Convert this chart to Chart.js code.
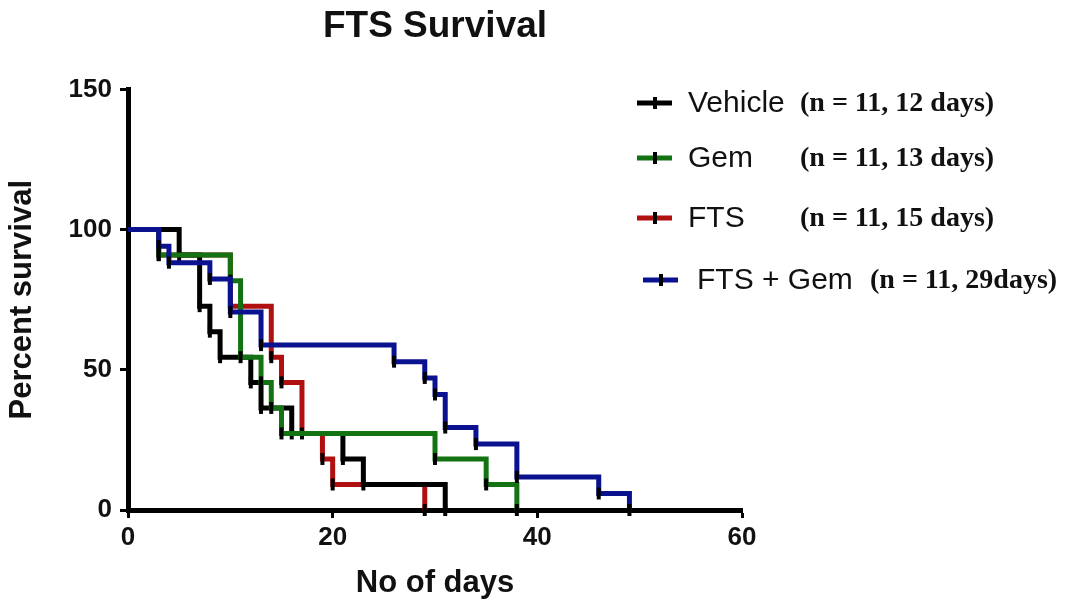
<!DOCTYPE html>
<html>
<head>
<meta charset="utf-8">
<title>FTS Survival</title>
<script src="https://cdn.jsdelivr.net/npm/chart.js@4.4.1/dist/chart.umd.min.js"></script>
<style>
  html, body { margin: 0; padding: 0; background: #fff; }
</style>
</head>
<body>
<canvas id="myChart" width="1082" height="606"></canvas>
<script>
// Kaplan-Meier steps: day of each event and survival after it
const vehicleDays = [0, 5, 7, 8, 9, 12, 13, 16, 21, 23, 31];
const vehicleSurv = [100, 90.9, 72.7, 63.6, 54.5, 45.5, 36.4, 27.3, 18.2, 9.1, 0];

const gemDays = [0, 3, 10, 11, 13, 14, 15, 30, 35, 38];
const gemSurv = [100, 90.9, 81.8, 54.5, 45.5, 36.4, 27.3, 18.2, 9.1, 0];

const ftsDays = [0, 3, 10, 14, 15, 17, 19, 20, 29];
const ftsSurv = [100, 90.9, 72.7, 54.5, 45.5, 27.3, 18.2, 9.1, 0];

const comboDays = [0, 3, 4, 8, 10, 13, 26, 29, 30, 31, 34, 38, 46, 49];
const comboSurv = [100, 94.1, 88.2, 82.4, 70.6, 58.8, 52.9, 47.1, 41.2, 29.4, 23.5, 11.8, 5.9, 0];

const seriesNames = ["Vehicle", "Gem", "FTS", "FTS + Gem"];
const seriesNotes = ["(n = 11, 12 days)", "(n = 11, 13 days)", "(n = 11, 15 days)", "(n = 11, 29days)"];

const xTicks = [0, 20, 40, 60];
const yTicks = [0, 50, 100, 150];

// colours
const seriesColors = ["#000000", "#137313", "#b01010", "#0b128f"];

function toPoints(days, surv) {
    return days.map((d, i) => ({x: d, y: surv[i]}));
}

function makeSet(i, days, surv, drawOrder) {
    return {
        label: seriesNames[i],
        data: toPoints(days, surv),
        borderColor: seriesColors[i],
        borderWidth: 5,
        stepped: true,
        fill: false,
        order: drawOrder,
        clip: false,
        pointStyle: "line",
        rotation: 90,
        pointRadius: ctx => ctx.dataIndex === 0 ? 0 : 6,
        pointBorderWidth: 4,
        pointBorderColor: "#000",
        pointBackgroundColor: "#000"
    };
}

// legend on the right, label in Arial, counts in Times bold
const sideLegend = {
    id: "sideLegend",
    afterDraw(chart) {
        const ctx = chart.ctx;
        const rows = [103, 158, 218, 280];
        const symX = [637, 637, 637, 643];
        const labX = [688, 688, 688, 697];
        const noteX = [800, 800, 800, 870];
        ctx.save();
        ctx.textBaseline = "middle";
        seriesNames.forEach((name, i) => {
            const y = rows[i];
            ctx.strokeStyle = seriesColors[i];
            ctx.lineWidth = 5;
            ctx.beginPath();
            ctx.moveTo(symX[i], y);
            ctx.lineTo(symX[i] + 35, y);
            ctx.stroke();
            ctx.strokeStyle = "#000";
            ctx.lineWidth = 4;
            ctx.beginPath();
            ctx.moveTo(symX[i] + 18, y - 6);
            ctx.lineTo(symX[i] + 18, y + 6);
            ctx.stroke();
            ctx.fillStyle = "#111";
            ctx.font = "30px 'Liberation Sans', Arial";
            ctx.fillText(name, labX[i], y + 1);
            ctx.font = "bold 28px 'Liberation Serif', 'Times New Roman'";
            ctx.fillText(seriesNotes[i], noteX[i], y + 1);
        });
        ctx.restore();
    }
};

const ctx = document.getElementById("myChart").getContext("2d");
const chart = new Chart(ctx, {
    type: "line",
    data: {
        datasets: [
            makeSet(0, vehicleDays, vehicleSurv, 2),
            makeSet(1, gemDays, gemSurv, 1),
            makeSet(2, ftsDays, ftsSurv, 3),
            makeSet(3, comboDays, comboSurv, 0)
        ]
    },
    options: {
        responsive: false,
        animation: false,
        devicePixelRatio: 1,
        events: [],
        layout: { padding: { left: 0, right: 340, top: 0, bottom: 0 } },
        plugins: {
            legend: { display: false },
            tooltip: { enabled: false },
            title: {
                display: true,
                text: "FTS Survival",
                fullSize: false,
                color: "#111",
                font: { family: "'Liberation Sans', Arial", size: 37, weight: "bold" },
                padding: { top: 5, bottom: 40 }
            }
        },
        scales: {
            x: {
                type: "linear",
                min: 0,
                max: 60,
                afterBuildTicks: s => { s.ticks = xTicks.map(v => ({value: v})); },
                afterFit: s => { s.height = 96; },
                grid: { drawOnChartArea: false, drawTicks: true, tickLength: 8, tickWidth: 3, tickColor: "#000" },
                border: { display: true, color: "#000", width: 5 },
                ticks: {
                    color: "#111",
                    padding: 4,
                    maxRotation: 0,
                    font: { family: "'Liberation Sans', Arial", size: 26, weight: "bold" }
                },
                title: {
                    display: true,
                    text: "No of days",
                    color: "#111",
                    font: { family: "'Liberation Sans', Arial", size: 31, weight: "bold" },
                    padding: { top: 0, bottom: 4 }
                }
            },
            y: {
                min: 0,
                max: 150,
                afterBuildTicks: s => { s.ticks = yTicks.map(v => ({value: v})); },
                afterFit: s => { s.width = 128; },
                grid: { drawOnChartArea: false, drawTicks: true, tickLength: 8, tickWidth: 3, tickColor: "#000" },
                border: { display: true, color: "#000", width: 5 },
                ticks: {
                    color: "#111",
                    padding: 8,
                    font: { family: "'Liberation Sans', Arial", size: 26, weight: "bold" }
                },
                title: {
                    display: true,
                    text: "Percent survival",
                    color: "#111",
                    font: { family: "'Liberation Sans', Arial", size: 31, weight: "bold" },
                    padding: { top: 4, bottom: 0 }
                }
            }
        }
    },
    plugins: [sideLegend]
});
</script>
</body>
</html>
